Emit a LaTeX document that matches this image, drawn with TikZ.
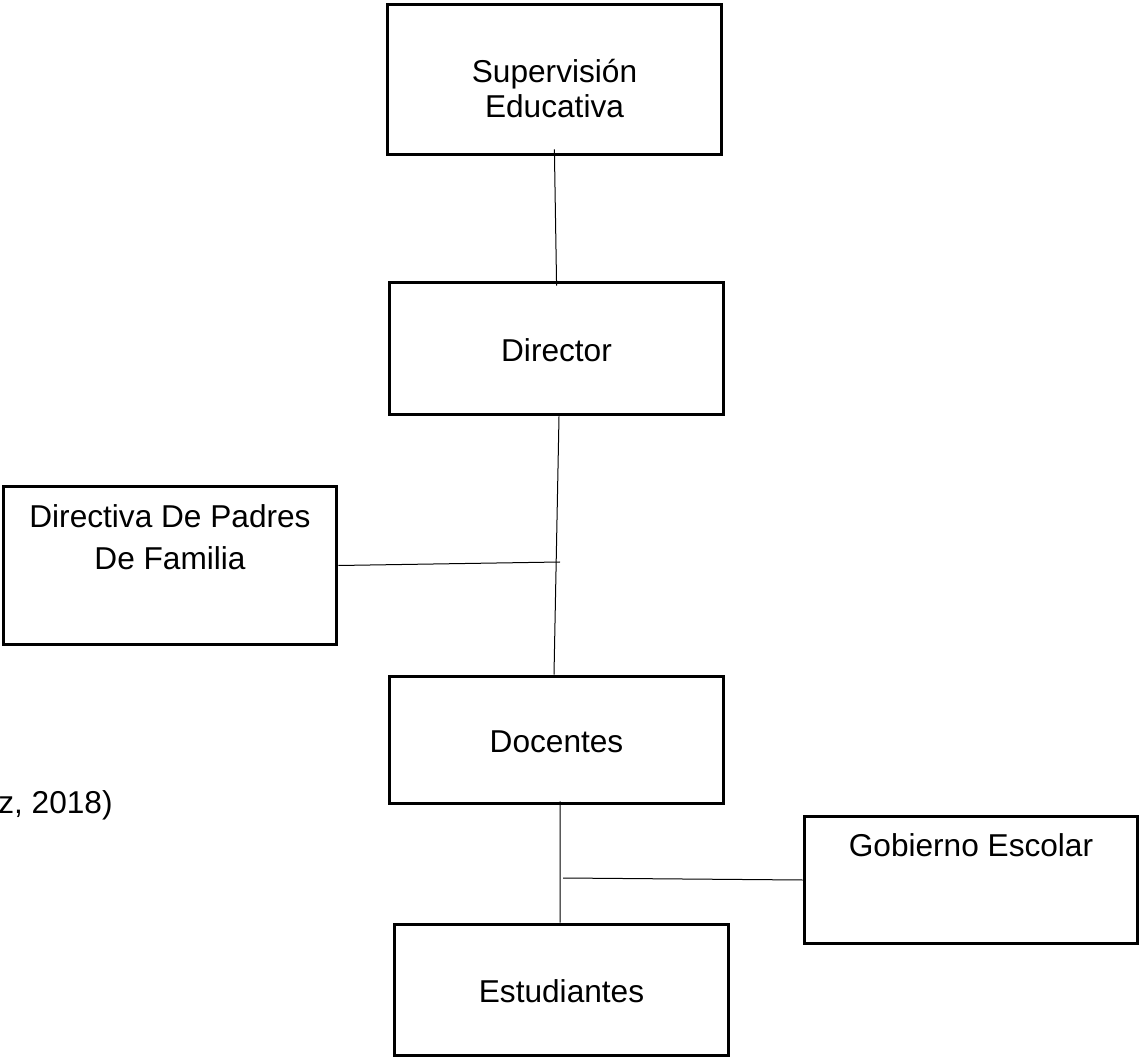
\documentclass[tikz,border=0pt]{standalone}
\usepackage{fontspec}
\setmainfont{Liberation Sans}
\begin{document}
\begin{tikzpicture}[x=0.02cm, y=-0.02cm,
        caja/.style={draw, line width=0.06cm, inner sep=0pt, align=center,
            minimum width=6.7cm, font=\fontsize{18pt}{20pt}\selectfont},
        enlace/.style={line width=0.02cm}]

        \useasboundingbox (0,0) rectangle (1140,1057);

        \node[caja, minimum height=3.02cm, text height=1.54cm, text depth=0pt] (sup) at (554.5,79.5) {Supervisión\\Educativa};
        \node[caja, minimum height=2.66cm, text height=0.54cm, text depth=0pt] (dir) at (556.5,348.5) {Director};
        \node[caja, minimum width=6.68cm, minimum height=3.18cm, text height=0.18cm, text depth=0pt,
            font=\fontsize{18pt}{24pt}\selectfont] (pad) at (170,565.5) {Directiva De Padres\\De Familia};
        \node[caja, minimum height=2.56cm, text height=0.52cm, text depth=0pt] (doc) at (556.5,740) {Docentes};
        \node[caja, minimum width=6.68cm, minimum height=2.56cm, text height=0pt, text depth=0.96cm] (gob) at (971,880) {Gobierno Escolar};
        \node[caja, minimum height=2.64cm, text height=0.48cm, text depth=0pt] (est) at (561.5,990) {Estudiantes};

        \node[anchor=base east, inner sep=0pt, font=\fontsize{18pt}{20pt}\selectfont] (cita) at (113,813) {z, 2018)};

        % puntos de union
        \coordinate (jpad) at (560,562);
        \coordinate (jgob) at (563,878);

        \draw[enlace, shorten <=-0.14cm, shorten >=-0.1cm] (sup.south) -- (dir.north);
        \draw[enlace] ([xshift=0.05cm]dir.south) -- ([xshift=-0.05cm]doc.north);
        \draw[enlace] (pad.east) -- (jpad);
        \draw[enlace, shorten <=-0.08cm] ([xshift=0.07cm]doc.south) -- ([xshift=-0.03cm]est.north);
        \draw[enlace] (jgob) -- (gob.west);
    \end{tikzpicture}
\end{document}
